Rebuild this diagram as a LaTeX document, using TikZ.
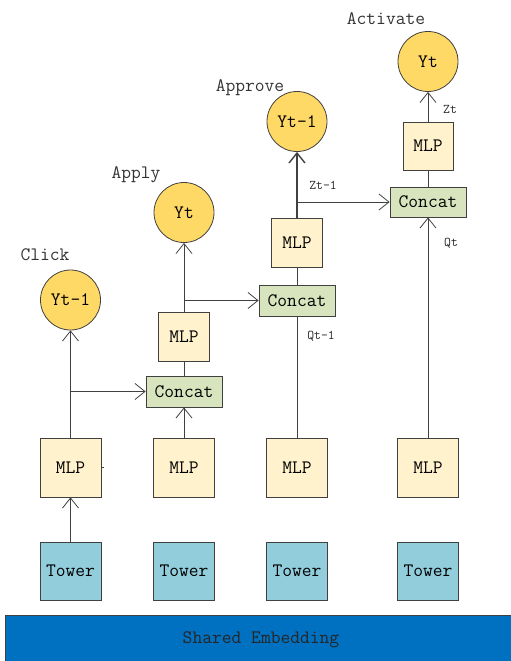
\documentclass[tikz,border=0pt]{standalone}
\usetikzlibrary{arrows.meta}
\definecolor{towerfill}{HTML}{92CDDC}
\definecolor{mlpfill}{HTML}{FFF2CC}
\definecolor{catfill}{HTML}{D7E4BD}
\definecolor{outfill}{HTML}{FFD966}
\definecolor{embfill}{HTML}{0070C0}
\definecolor{edge}{HTML}{404040}
\tikzset{
  box/.style={draw=edge, line width=0.8pt, inner sep=0pt, font=\ttfamily\fontsize{19}{21}\selectfont},
  tower/.style={box, fill=towerfill, minimum width=61pt, minimum height=58pt},
  mlp/.style={box, fill=mlpfill, minimum width=61pt, minimum height=59pt},
  smallmlp/.style={box, fill=mlpfill, minimum width=51pt, minimum height=49pt},
  concat/.style={box, fill=catfill, minimum width=76pt, minimum height=31pt},
  outcircle/.style={box, circle, fill=outfill, minimum size=60pt},
  title/.style={font=\ttfamily\fontsize{19}{21}\selectfont, text=black!80},
  tag/.style={font=\ttfamily\fontsize{13.3}{15}\selectfont, text=black!85},
  link/.style={draw=edge, line width=0.8pt},
  arr/.style={link, -{Straight Barb[length=10pt,width=16pt]}},
}
\begin{document}
\begin{tikzpicture}[x=1pt, y=-1pt]
\useasboundingbox (0,0) rectangle (511,661);

% shared embedding bar
\node[box, fill=embfill, anchor=north west, minimum width=520pt, minimum height=50pt] (emb) at (5,615) {};
\node[title, text=black!85] (embtext) at (261,640) {Shared Embedding};

% towers
\node[tower] (tw1) at (70.5,571) {Tower};
\node[tower] (tw2) at (184,571) {Tower};
\node[tower] (tw3) at (297,571) {Tower};
\node[tower] (tw4) at (428,571) {Tower};

% task-specific MLPs
\node[mlp] (m1) at (70.5,467.5) {MLP};
\node[mlp] (m2) at (184,467.5) {MLP};
\node[mlp] (m3) at (297,467.5) {MLP};
\node[mlp] (m4) at (428,467.5) {MLP};

% concat + MLP stages
\node[concat] (c1) at (184,391.5) {Concat};
\node[smallmlp] (u2) at (184,337) {MLP};
\node[concat] (c2) at (297,300.5) {Concat};
\node[smallmlp] (u3) at (297,242.5) {MLP};
\node[concat, minimum height=30pt] (c3) at (428,202) {Concat};
\node[smallmlp, minimum width=50pt, minimum height=48pt] (u4) at (428,146) {MLP};

% outputs
\node[outcircle] (y1) at (70.5,300) {Yt-1};
\node[outcircle] (y2) at (184,212.5) {Yt};
\node[outcircle] (y3) at (297,121.5) {Yt-1};
\node[outcircle] (y4) at (428,61.5) {Yt};

% task titles
\node[title] (t1) at (45,255) {Click};
\node[title] (t2) at (136,175) {Apply};
\node[title] (t3) at (250,88) {Approve};
\node[title] (t4) at (386,19) {Activate};

% tower to MLP
\draw[arr] (tw1.north) -- (m1.south);
\draw[link] (m1.east) -- ++(3,0);

% column 1
\draw[arr] (m1.north) -- (y1.south);
\coordinate (b1) at (m1.north |- c1.west);
\draw[arr] (b1) -- (c1.west);

% column 2
\draw[arr] (m2.north) -- (c1.south);
\draw[link] (c1.north) -- (u2.south);
\draw[arr] (u2.north) -- (y2.south);
\coordinate (b2) at (u2.north |- c2.west);
\draw[arr] (b2) -- (c2.west);

% column 3
\draw[link] (m3.north) -- (c2.south);
\draw[link] (c2.north) -- (u3.south);
\draw[arr, line width=1.4pt] (u3.north) -- (y3.south);
\coordinate (b3) at (u3.north |- c3.west);
\draw[arr] (b3) -- (c3.west);

% column 4
\draw[arr] (m4.north) -- (c3.south);
\draw[link] (c3.north) -- (u4.south);
\draw[arr] (u4.north) -- (y4.south);

% edge labels
\node[tag] (q1) at (321,336) {Qt-1};
\node[tag] (z1) at (323,185) {Zt-1};
\node[tag] (q2) at (451,243) {Qt};
\node[tag] (z2) at (450,109) {Zt};
\end{tikzpicture}
\end{document}
